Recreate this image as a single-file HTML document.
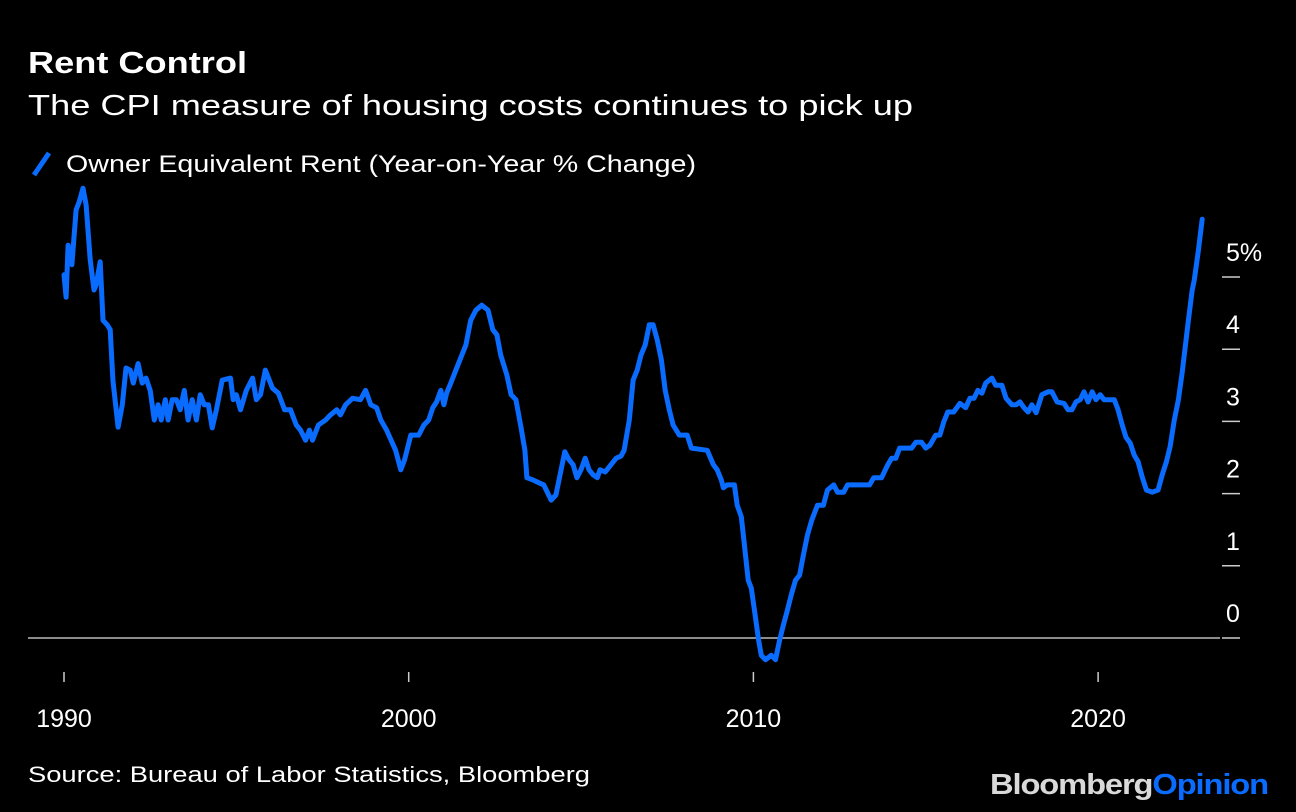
<!DOCTYPE html>
<html><head><meta charset="utf-8"><style>
html,body{margin:0;padding:0;background:#000;}
svg{display:block;}
text{font-family:"Liberation Sans",Arial,sans-serif;fill:#fff;}
</style></head><body>
<svg id="chart" width="1296" height="812" viewBox="0 0 1296 812" xmlns="http://www.w3.org/2000/svg">
<rect width="1296" height="812" fill="#000"/>
<text x="28" y="73" font-size="31" font-weight="bold" textLength="219" lengthAdjust="spacingAndGlyphs">Rent Control</text>
<text x="28" y="115" font-size="29" textLength="885" lengthAdjust="spacingAndGlyphs">The CPI measure of housing costs continues to pick up</text>
<g>
<line x1="34" y1="175" x2="49" y2="153" stroke="#0a6cff" stroke-width="5"/>
<text x="66" y="172" font-size="24" textLength="630" lengthAdjust="spacingAndGlyphs">Owner Equivalent Rent (Year-on-Year % Change)</text>
</g>
<g id="yaxis"></g>
<g id="xaxis"></g>
<g id="plot"></g>
<text x="28" y="782" font-size="22" textLength="562" lengthAdjust="spacingAndGlyphs">Source: Bureau of Labor Statistics, Bloomberg</text>
<text x="990" y="794" font-size="29" font-weight="bold" textLength="278" lengthAdjust="spacingAndGlyphs" letter-spacing="-1"><tspan fill="#d9d9d9">Bloomberg</tspan><tspan fill="#0a6cff">Opinion</tspan></text>
</svg>
<script>
const years=[1990.00,1990.06,1990.12,1990.23,1990.35,1990.44,1990.55,1990.64,1990.76,1990.87,1990.93,1991.05,1991.13,1991.25,1991.34,1991.42,1991.57,1991.69,1991.80,1991.92,1992.01,1992.15,1992.27,1992.38,1992.50,1992.62,1992.73,1992.82,1992.94,1993.02,1993.14,1993.26,1993.37,1993.49,1993.60,1993.72,1993.84,1993.95,1994.07,1994.19,1994.30,1994.42,1994.59,1994.83,1994.91,1995.00,1995.12,1995.29,1995.47,1995.58,1995.70,1995.84,1996.05,1996.22,1996.40,1996.57,1996.74,1996.86,1997.01,1997.12,1997.21,1997.38,1997.59,1997.73,1997.91,1998.02,1998.17,1998.37,1998.60,1998.75,1998.90,1999.07,1999.19,1999.36,1999.62,1999.77,1999.88,2000.06,2000.29,2000.44,2000.58,2000.70,2000.81,2000.93,2001.02,2001.10,2001.22,2001.37,2001.51,2001.66,2001.80,2001.95,2002.12,2002.30,2002.44,2002.56,2002.67,2002.85,2002.97,2003.11,2003.26,2003.37,2003.43,2003.60,2003.78,2003.92,2004.13,2004.27,2004.42,2004.53,2004.65,2004.77,2004.88,2005.00,2005.12,2005.23,2005.35,2005.47,2005.55,2005.70,2005.87,2006.02,2006.16,2006.25,2006.40,2006.51,2006.63,2006.74,2006.86,2006.98,2007.09,2007.21,2007.33,2007.44,2007.56,2007.67,2007.85,2008.08,2008.20,2008.66,2008.84,2008.95,2009.07,2009.13,2009.24,2009.45,2009.53,2009.65,2009.74,2009.85,2009.94,2010.03,2010.15,2010.23,2010.35,2010.52,2010.64,2010.76,2010.87,2010.99,2011.10,2011.22,2011.34,2011.45,2011.57,2011.69,2011.86,2012.03,2012.15,2012.33,2012.44,2012.62,2012.73,2013.37,2013.49,2013.72,2013.90,2014.01,2014.13,2014.24,2014.59,2014.71,2014.88,2015.00,2015.12,2015.29,2015.41,2015.52,2015.64,2015.81,2015.99,2016.16,2016.28,2016.40,2016.51,2016.63,2016.74,2016.92,2017.03,2017.21,2017.33,2017.50,2017.62,2017.73,2017.85,2017.97,2018.08,2018.20,2018.37,2018.55,2018.66,2018.81,2019.01,2019.13,2019.24,2019.36,2019.48,2019.59,2019.71,2019.83,2019.94,2020.06,2020.17,2020.47,2020.58,2020.70,2020.81,2020.93,2021.05,2021.16,2021.28,2021.40,2021.57,2021.74,2021.86,2021.98,2022.09,2022.21,2022.33,2022.44,2022.62,2022.73,2022.79,2022.91,2023.02];
const oerValues=[5.03,4.72,5.44,5.17,5.93,6.04,6.23,6.00,5.24,4.82,4.89,5.21,4.40,4.34,4.27,3.57,2.92,3.23,3.74,3.71,3.53,3.80,3.53,3.60,3.43,3.02,3.23,3.02,3.30,3.02,3.30,3.30,3.16,3.43,3.02,3.30,3.02,3.37,3.23,3.23,2.91,3.16,3.57,3.60,3.30,3.37,3.16,3.43,3.60,3.30,3.37,3.71,3.46,3.39,3.16,3.16,2.95,2.88,2.74,2.88,2.74,2.95,3.02,3.09,3.16,3.09,3.23,3.32,3.30,3.43,3.23,3.19,3.02,2.88,2.60,2.33,2.47,2.81,2.81,2.95,3.02,3.19,3.27,3.43,3.23,3.39,3.53,3.71,3.88,4.06,4.40,4.54,4.61,4.54,4.27,4.20,3.92,3.64,3.37,3.30,2.91,2.60,2.22,2.19,2.15,2.12,1.91,1.98,2.33,2.58,2.47,2.40,2.22,2.33,2.49,2.33,2.26,2.22,2.33,2.30,2.40,2.49,2.52,2.60,3.02,3.57,3.71,3.92,4.06,4.34,4.34,4.13,3.85,3.43,3.16,2.95,2.81,2.81,2.63,2.60,2.40,2.33,2.19,2.08,2.12,2.12,1.84,1.68,1.29,0.80,0.69,0.39,-0.03,-0.24,-0.30,-0.24,-0.30,-0.03,0.18,0.39,0.60,0.80,0.87,1.15,1.43,1.63,1.84,1.84,2.05,2.12,2.02,2.02,2.12,2.12,2.22,2.22,2.40,2.49,2.49,2.63,2.63,2.71,2.71,2.63,2.67,2.81,2.81,2.99,3.13,3.13,3.25,3.19,3.32,3.32,3.43,3.39,3.53,3.60,3.50,3.50,3.32,3.23,3.23,3.27,3.19,3.13,3.23,3.12,3.37,3.41,3.41,3.27,3.25,3.16,3.16,3.27,3.30,3.41,3.27,3.41,3.30,3.37,3.30,3.30,3.16,2.95,2.78,2.70,2.53,2.44,2.23,2.05,2.02,2.05,2.26,2.44,2.65,3.02,3.30,3.68,4.40,4.82,4.96,5.37,5.80];
const yTicks=[0,1,2,3,4,5];
const yTickLabels=["0","1","2","3","4","5%"];
const xTicks=[1990,2000,2010,2020];
const xTickLabels=["1990","2000","2010","2020"];

const NS="http://www.w3.org/2000/svg";
function xScale(yr){return 64+(yr-1990)*34.47;}
function yScale(v){return 638-v*72.2;}
function mk(tag,attrs,parent){const e=document.createElementNS(NS,tag);for(const k in attrs)e.setAttribute(k,attrs[k]);parent.appendChild(e);return e;}

const yaxis=document.getElementById('yaxis');
const xaxis=document.getElementById('xaxis');
const plot=document.getElementById('plot');

yTicks.forEach((t,i)=>{
  const y=yScale(t);
  const tk=mk('line',{x1:1222,x2:1240,y1:y,y2:y,stroke:'#ccc','stroke-width':1.5},yaxis);
  
  
  const lb=mk('text',{x:1226,y:y-16,'font-size':25},yaxis);
  lb.textContent=yTickLabels[i];
  
  
});
const zl=mk('line',{x1:28,x2:1220,y1:yScale(0),y2:yScale(0),stroke:'#bbb','stroke-width':1.5},yaxis);



xTicks.forEach((t,i)=>{
  const x=xScale(t);
  const tk=mk('line',{x1:x,x2:x,y1:672,y2:682,stroke:'#ccc','stroke-width':1.5},xaxis);
  
  
  const lb=mk('text',{x:x,y:727,'font-size':25,'text-anchor':'middle'},xaxis);
  lb.textContent=xTickLabels[i];
  
  
});

let d='';
years.forEach((yr,i)=>{d+=(i?'L':'M')+xScale(yr).toFixed(1)+','+yScale(oerValues[i]).toFixed(1);});
const line=mk('path',{d:d,fill:'none',stroke:'#0a6cff','stroke-width':5,'stroke-linejoin':'round','stroke-linecap':'round'},plot);


</script>
</body></html>
